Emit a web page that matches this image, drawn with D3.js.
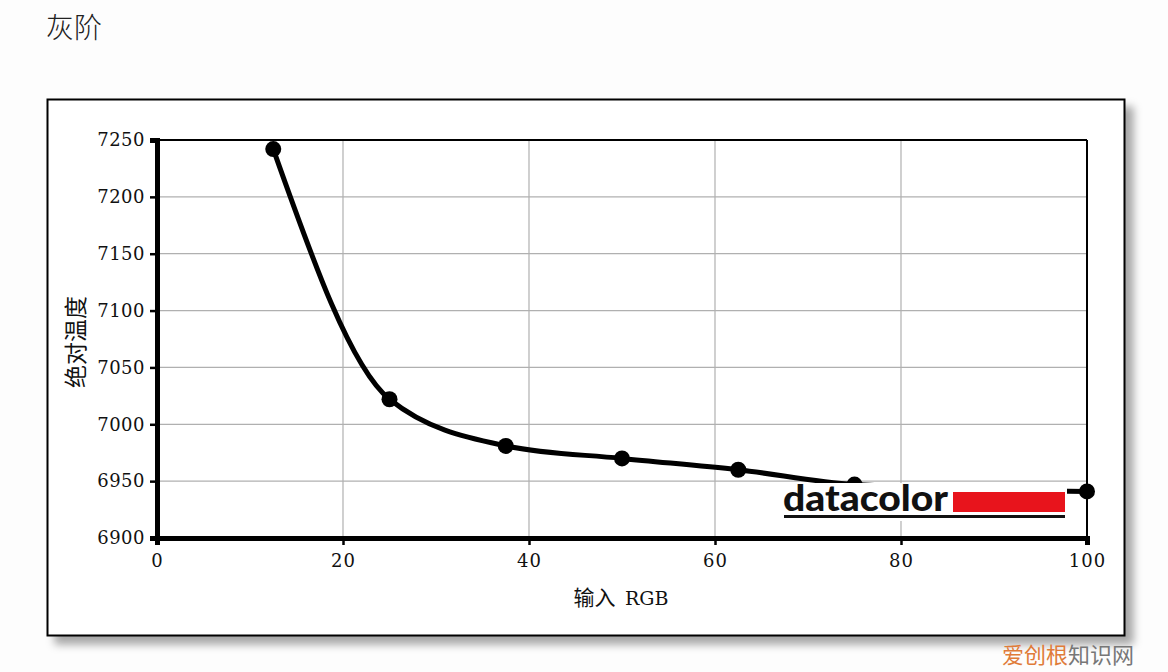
<!DOCTYPE html>
<html><head><meta charset="utf-8">
<script src="https://cdn.jsdelivr.net/npm/d3@7"></script>
<style>html,body{margin:0;padding:0;background:#fdfdfd;}svg{display:block;}</style>
</head><body>
<svg id="chart" width="1168" height="672"></svg>
<script>
const title = "灰阶";
const xLabel = "输入 RGB";
const yLabel = "绝对温度";
const inputRGB = [12.5, 25, 37.5, 50, 62.5, 75, 100];
const colorTemp = [7242, 7022, 6981, 6970, 6960, 6947, 6941];
const xTicks = [0, 20, 40, 60, 80, 100];
const yTicks = [6900, 6950, 7000, 7050, 7100, 7150, 7200, 7250];

const svg = d3.select("#chart");
const defs = svg.append("defs");
const f = defs.append("filter").attr("id","sh").attr("x","-5%").attr("y","-5%").attr("width","115%").attr("height","115%");
f.append("feDropShadow").attr("dx",8).attr("dy",8).attr("stdDeviation",4).attr("flood-color","#000").attr("flood-opacity",0.35);

svg.append("rect").attr("width",1168).attr("height",672).attr("fill","#fdfdfd");
svg.append("text").attr("x",46).attr("y",38).attr("font-family","Noto Sans CJK SC").attr("font-weight",300).attr("font-size",28).attr("fill","#222").text(title);

// outer frame
svg.append("rect").attr("x",47.5).attr("y",99.5).attr("width",1077).attr("height",536)
  .attr("fill","#fff").attr("stroke","#000").attr("stroke-width",2).attr("filter","url(#sh)");

const L=157, R=1087, T=140, B=538;
const x = d3.scaleLinear().domain([0,100]).range([L,R]);
const y = d3.scaleLinear().domain([6900,7250]).range([B,T]);

// grid
const g = svg.append("g");
g.selectAll(".gx").data(xTicks.filter(d=>d>0&&d<100)).join("line")
  .attr("x1",d=>x(d)).attr("x2",d=>x(d)).attr("y1",T).attr("y2",B).attr("stroke","#b0b0b0").attr("stroke-width",1.2);
g.selectAll(".gy").data(yTicks.filter(d=>d>6900&&d<7250)).join("line")
  .attr("x1",L).attr("x2",R).attr("y1",d=>y(d)).attr("y2",d=>y(d)).attr("stroke","#b0b0b0").attr("stroke-width",1.2);

// top & right thin border
svg.append("line").attr("x1",L).attr("x2",R).attr("y1",T).attr("y2",T).attr("stroke","#000").attr("stroke-width",2);
svg.append("line").attr("x1",R).attr("x2",R).attr("y1",T).attr("y2",B).attr("stroke","#000").attr("stroke-width",2);

const tickFont = "DejaVu Serif";
// axes
const ax = d3.axisBottom(x).tickValues(xTicks).tickSize(7).tickPadding(9).tickFormat(d3.format("d"));
const xg = svg.append("g").attr("transform",`translate(0,${B})`).call(ax);
xg.select(".domain").attr("stroke","#000").attr("stroke-width",5);
xg.selectAll(".tick line").attr("stroke","#000").attr("stroke-width",2.5);
xg.selectAll(".tick text").attr("font-family",tickFont).attr("font-size",18).attr("letter-spacing","1px").attr("fill","#111");

const ay = d3.axisLeft(y).tickValues(yTicks).tickSize(7).tickPadding(5).tickFormat(d3.format("d"));
const yg = svg.append("g").attr("transform",`translate(${L},0)`).call(ay);
yg.select(".domain").attr("stroke","#000").attr("stroke-width",5);
yg.selectAll(".tick line").attr("stroke","#000").attr("stroke-width",2.5);
yg.selectAll(".tick text").attr("font-family",tickFont).attr("font-size",18).attr("letter-spacing","0.5px").attr("fill","#111");

// line + points
const data = inputRGB.map((v,i)=>({x:v,y:colorTemp[i]}));
const line = d3.line().x(d=>x(d.x)).y(d=>y(d.y)).curve(d3.curveMonotoneX);
svg.append("path").datum(data).attr("d",line).attr("fill","none").attr("stroke","#000").attr("stroke-width",5).attr("stroke-linejoin","round");
svg.selectAll(".pt").data(data).join("circle").attr("cx",d=>x(d.x)).attr("cy",d=>y(d.y)).attr("r",8).attr("fill","#000");

// datacolor logo
const lg = svg.append("g");
lg.append("rect").attr("x",778).attr("y",483).attr("width",289).attr("height",38).attr("fill","#fff");
lg.append("text").attr("x",783).attr("y",511).attr("font-family","Lato").attr("font-weight",900)
  .attr("font-size",36).attr("textLength",165).attr("lengthAdjust","spacingAndGlyphs").attr("fill","#111").text("datacolor");
lg.append("rect").attr("x",953).attr("y",492).attr("width",112).attr("height",20).attr("fill","#e8141c");
lg.append("rect").attr("x",784).attr("y",515).attr("width",281).attr("height",3).attr("fill","#111");

// axis titles
svg.append("text").attr("transform","translate(84,342) rotate(-90)").attr("text-anchor","middle")
  .attr("font-family","Noto Sans CJK SC").attr("font-size",23).attr("fill","#111").text(yLabel);
const xt = svg.append("text").attr("x",621).attr("y",605).attr("text-anchor","middle").attr("font-size",21).attr("fill","#111");
xt.append("tspan").attr("font-family","Noto Sans CJK SC").text("输入\u00a0 ");
xt.append("tspan").attr("font-family","DejaVu Serif").attr("font-size",19).text("RGB");

// watermark
const wm = svg.append("text").attr("x",1002).attr("y",663).attr("font-family","Noto Sans CJK SC").attr("font-size",22);
wm.append("tspan").attr("fill","#e07b39").text("爱创根");
wm.append("tspan").attr("fill","#777").text("知识网");
</script>
</body></html>
